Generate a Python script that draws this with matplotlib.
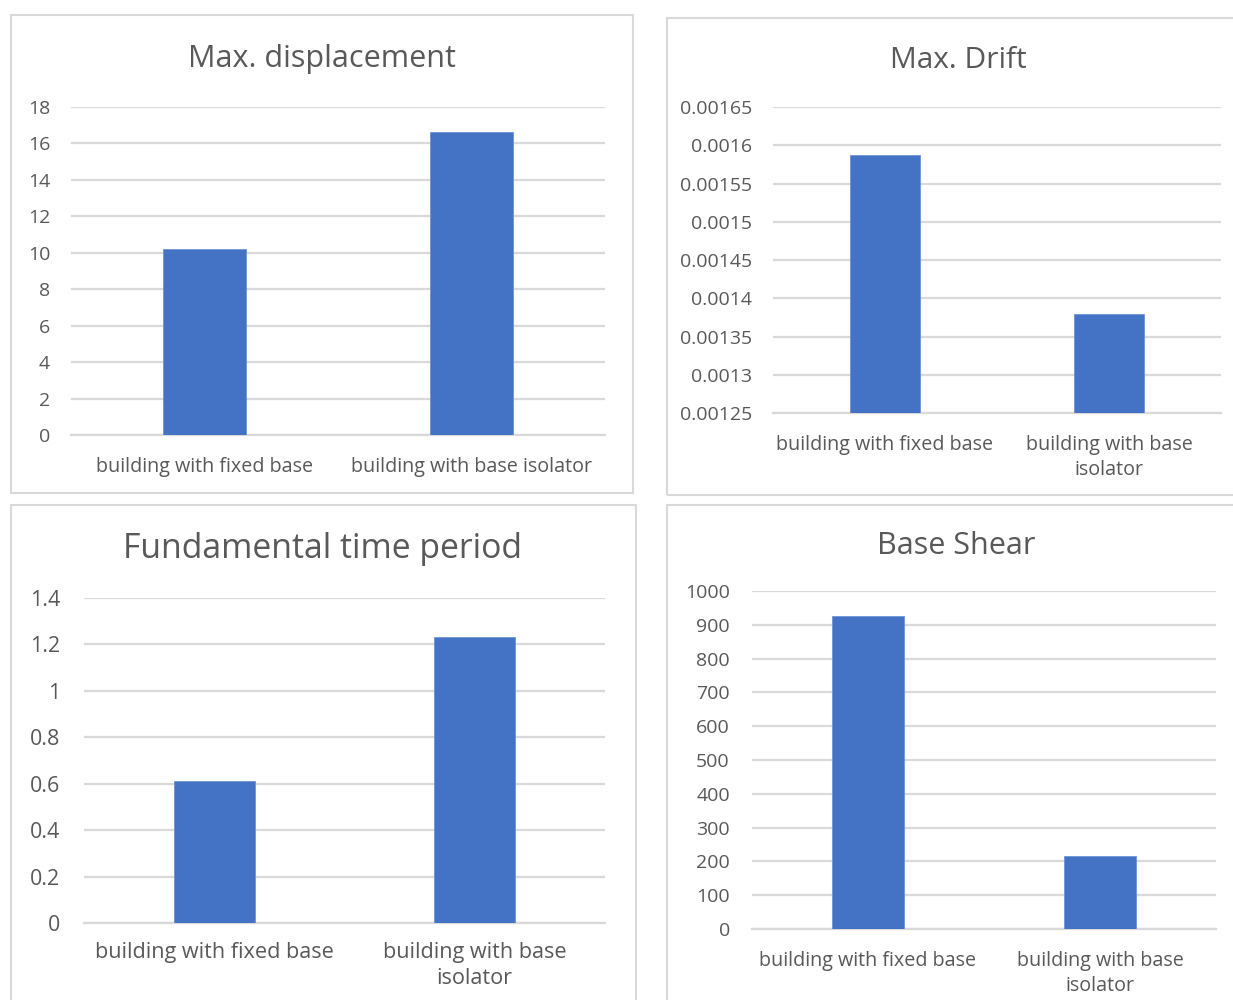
import numpy as np
import matplotlib
matplotlib.use("Agg")
import matplotlib.pyplot as plt
from matplotlib.patches import Rectangle
from matplotlib.ticker import FuncFormatter

plt.rcParams['font.family'] = ['Open Sans', 'DejaVu Sans']

# data
cats_one_line = ["building with fixed base", "building with base isolator"]
cats_wrapped = ["building with fixed base", "building with base\nisolator"]

displacement = [10.2, 16.63]
drift = [0.001587, 0.00138]
time_period = [0.61, 1.23]
base_shear = [926, 216]

disp_ticks = np.arange(0, 19, 2)
drift_ticks = np.arange(0.00125, 0.001651, 0.00005)
period_ticks = np.arange(0, 1.41, 0.2)
shear_ticks = np.arange(0, 1001, 100)

bar_color = "#4472C4"
grid_color = "#d9d9d9"
text_color = "#595959"

fig = plt.figure(figsize=(12.33, 10), dpi=100)

# panel frames (pixel boxes converted to figure fraction)
W, H = 1233, 1000
for x0, y0, x1, y1 in [(11, 15, 633, 493), (667, 18, 1240, 495),
                       (11, 505, 636, 1010), (667, 505, 1240, 1010)]:
    fig.add_artist(Rectangle((x0 / W, 1 - y1 / H), (x1 - x0) / W, (y1 - y0) / H,
                             transform=fig.transFigure, fill=False,
                             edgecolor=grid_color, linewidth=1.5))


def bar_panel(rect, values, cats, ticks, lims, title, title_xy, title_size, pad,
              label_size=14.2, tick_size=14, xpad=16):
    ax = fig.add_axes(rect)
    ax.bar(range(len(values)), values, width=0.31, color=bar_color,
           edgecolor="#6f93d6", linewidth=0.6, zorder=3)
    ax.set_xlim(-0.5, len(values) - 0.5)
    ax.set_ylim(*lims)
    ax.set_yticks(ticks)
    ax.yaxis.set_major_formatter(FuncFormatter(lambda v, p: "%g" % round(v, 6)))
    ax.set_xticks(range(len(cats)))
    ax.set_xticklabels(cats, fontsize=label_size, color=text_color, linespacing=1.3)
    ax.tick_params(axis='y', length=0, pad=pad, labelsize=tick_size, labelcolor=text_color)
    ax.tick_params(axis='x', length=0, pad=xpad)
    ax.grid(axis='y', color=grid_color, linewidth=1.6, zorder=0)
    for s in ["top", "right", "left"]:
        ax.spines[s].set_visible(False)
    ax.spines["bottom"].set_color(grid_color)
    ax.spines["bottom"].set_linewidth(1.6)
    fig.text(title_xy[0] / W, 1 - title_xy[1] / H, title, ha='center', va='center',
             fontsize=title_size, color=text_color)
    return ax


bar_panel([71 / W, 1 - 435 / H, 534 / W, 328 / H], displacement, cats_one_line,
          disp_ticks, (0, 18), "Max. displacement", (322, 59), 22, 15)
bar_panel([773 / W, 1 - 413 / H, 448 / W, 306 / H], drift, cats_wrapped,
          drift_ticks, (0.00125, 0.00165), "Max. Drift", (958, 60), 21.5, 15)
bar_panel([84 / W, 1 - 923 / H, 521 / W, 325 / H], time_period, cats_wrapped,
          period_ticks, (0, 1.4), "Fundamental time period", (323, 549), 24.3, 17,
          label_size=15.6, tick_size=15.4, xpad=14)
bar_panel([752 / W, 1 - 929 / H, 464 / W, 338 / H], base_shear, cats_wrapped,
          shear_ticks, (0, 1000), "Base Shear", (956, 546), 22, 16)

fig.savefig("out.png", dpi=100)
